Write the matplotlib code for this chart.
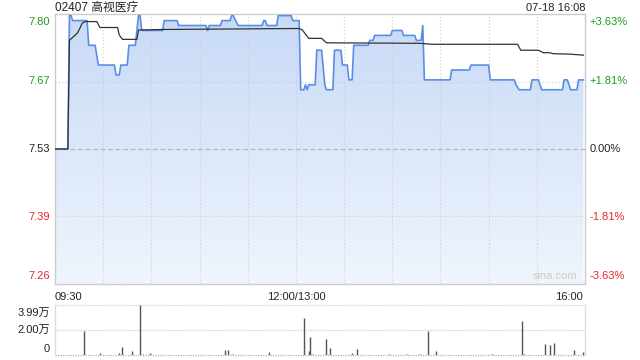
import numpy as np
import matplotlib
matplotlib.use('Agg')
import matplotlib.pyplot as plt
from matplotlib.colors import LinearSegmentedColormap
import matplotlib.transforms as mtrans

plt.rcParams['font.family'] = ['Liberation Sans', 'Noto Sans CJK SC', 'DejaVu Sans']

title = "02407 高视医疗"
stamp = "07-18 16:08"
prev_close = 7.53
pct_levels = [3.63, 1.81, 0.00, -1.81, -3.63]
x_tick_labels = ["09:30", "12:00/13:00", "16:00"]
x_tick_pos = [0, 150, 330]
vol_max = 39900

# minutes since 09:30 (lunch break removed), price
price_min = [0, 8, 9, 10, 11, 20, 21, 25, 27, 37, 38, 40, 41, 45, 46, 50, 52, 53, 54,
             67, 68, 76, 77, 94, 95, 96, 103, 104, 109, 110, 111, 114, 129, 130, 131,
             132, 138, 139, 147, 148, 152, 153, 155, 156, 157, 158, 162, 163, 166,
             168, 169, 173, 174, 178, 179, 182, 183, 185, 186, 195, 196, 198, 199,
             209, 210, 216, 217, 224, 225, 228, 229, 230, 246, 247, 258, 259, 270,
             271, 286, 287, 289, 296, 297, 301, 303, 316, 317, 319, 321, 325, 326, 329]
price_val = [7.53, 7.53, 7.80, 7.80, 7.79, 7.79, 7.74, 7.74, 7.70, 7.70, 7.68, 7.68, 7.70,
             7.70, 7.74, 7.74, 7.80, 7.80, 7.77, 7.77, 7.79, 7.79, 7.78, 7.78, 7.77, 7.78,
             7.78, 7.79, 7.79, 7.80, 7.80, 7.78, 7.78, 7.79, 7.79, 7.78, 7.78, 7.80, 7.80,
             7.79, 7.79, 7.65, 7.65, 7.66, 7.65, 7.66, 7.66, 7.73, 7.73, 7.66, 7.65, 7.65,
             7.73, 7.73, 7.70, 7.70, 7.67, 7.67, 7.74, 7.74, 7.75, 7.75, 7.76, 7.76, 7.77,
             7.77, 7.76, 7.76, 7.75, 7.75, 7.78, 7.67, 7.67, 7.69, 7.69, 7.70, 7.70, 7.67,
             7.67, 7.66, 7.65, 7.65, 7.67, 7.67, 7.65, 7.65, 7.67, 7.67, 7.65, 7.65, 7.67,
             7.67]

avg_min = [0, 8, 9, 14, 16, 17, 19, 26, 28, 39, 40, 42, 51, 52, 67, 152, 154, 158, 166,
           169, 227, 235, 288, 290, 301, 304, 308, 310, 321, 329]
avg_val = [7.53, 7.53, 7.75, 7.765, 7.778, 7.785, 7.788, 7.788, 7.776, 7.776, 7.761, 7.752,
           7.752, 7.771, 7.772, 7.774, 7.771, 7.754, 7.754, 7.745, 7.744, 7.742, 7.742,
           7.730, 7.730, 7.725, 7.725, 7.723, 7.722, 7.720]

vol_min = [18, 28, 40, 42, 48, 53, 55, 59, 106, 108, 110, 133, 155, 158, 159, 160, 169,
           171, 185, 188, 208, 219, 227, 232, 237, 272, 291, 292, 305, 308, 311, 323, 329]
vol_val = [19500, 1600, 1500, 6500, 3300, 39900, 700, 1600, 4000, 4000, 800, 2400, 29300,
           3300, 14650, 800, 13000, 5700, 1600, 4900, 700, 700, 1000, 19000, 3300, 600,
           26900, 800, 8400, 7600, 9800, 4000, 2700]

GREEN = '#1a9e1a'
RED = '#e8262b'
GRID = '#cfcfcf'
FRAME = '#cccccc'
TXT = '#222222'

fig = plt.figure(figsize=(6.4, 3.6), dpi=100)
ax = fig.add_axes([55/640, 76/360, 530/640, 270/360])
axv = fig.add_axes([55/640, 5/360, 530/640, 50/360])

ymax = prev_close * (1 + pct_levels[0] / 100)
ymin = prev_close * (1 + pct_levels[-1] / 100)
ax.set_xlim(0, 330)
ax.set_ylim(ymin, ymax)

# gradient fill under price
poly = ax.fill_between(price_min, price_val, ymin, color='none', lw=0)
grad = np.linspace(1, 0, 256).reshape(-1, 1)
cmap = LinearSegmentedColormap.from_list('g', ['#f0f5fd', '#c8daf7'])
im = ax.imshow(grad, extent=[0, 330, ymin, ymax], aspect='auto', cmap=cmap,
               origin='upper', zorder=1)
im.set_clip_path(poly.get_paths()[0], transform=ax.transData)

# grid
for m in range(30, 330, 30):
    ax.axvline(m, color=GRID, lw=0.8, ls=(0, (1, 2)), zorder=2)
for p in pct_levels[1:-1]:
    y = prev_close * (1 + p / 100)
    if p == 0:
        ax.axhline(y, color='#b8b8b8', lw=0.9, ls=(0, (4, 2)), zorder=2)
    else:
        ax.axhline(y, color=GRID, lw=0.8, ls=(0, (1, 2)), zorder=2)

ax.plot(price_min, price_val, color='#5a8ee6', lw=1.2, zorder=4)
ax.plot(avg_min, avg_val, color='#333333', lw=0.9, zorder=5)

for s in ax.spines.values():
    s.set_color(FRAME)
    s.set_linewidth(1)
ax.set_xticks([])
ax.set_yticks([])

# y labels
n = len(pct_levels)
for i, p in enumerate(pct_levels):
    frac = 1 - i / (n - 1)
    col = GREEN if p > 0 else (RED if p < 0 else TXT)
    va = 'top' if i == 0 else ('bottom' if i == n - 1 else 'center')
    off = -0.012 if i == 0 else (0.012 if i == n - 1 else 0)
    val = prev_close * (1 + p / 100)
    ax.text(-0.01, frac + off, f"{val:.2f}", transform=ax.transAxes, ha='right', va=va,
            color=col, fontsize=8)
    pl = f"+{p:.2f}%" if p > 0 else f"{p:.2f}%"
    ax.text(1.008, frac + off, pl, transform=ax.transAxes, ha='left', va=va,
            color=col, fontsize=8)

# x labels
has = ['left', 'center', 'right']
for pos, lab, ha in zip(x_tick_pos, x_tick_labels, has):
    xx = pos if ha != 'right' else pos - 1.2
    ax.text(xx, -0.03, lab, transform=mtrans.blended_transform_factory(ax.transData, ax.transAxes),
            ha=ha, va='top', color=TXT, fontsize=8)

top_off = mtrans.offset_copy(ax.transAxes, fig=fig, x=0, y=6, units='dots')
ax.text(0.0, 1.0, title, transform=top_off, ha='left', va='center', color=TXT,
        fontsize=8.5)
ax.text(1.0, 1.0, stamp, transform=top_off, ha='right', va='center', color=TXT,
        fontsize=8)
ax.text(0.985, 0.012, "sina.com", transform=ax.transAxes, ha='right', va='bottom',
        color='#cccccc', fontsize=8, zorder=3)

# volume pane
axv.set_xlim(0, 330)
axv.set_ylim(0, vol_max)
axv.vlines(vol_min, 0, vol_val, color='#555555', lw=1.0, zorder=4)
axv.axhline(vol_max / 2, color=GRID, lw=0.9, ls=(0, (1, 1)), zorder=2)
axv.axhline(vol_max, color=GRID, lw=0.9, ls=(0, (1, 1)), zorder=2, clip_on=False)
axv.axhline(0, color='#b0b0b0', lw=0.9, ls=(0, (1, 1)), zorder=2, clip_on=False)
axv.set_xticks([])
axv.set_yticks([])
for k in ['top', 'bottom']:
    axv.spines[k].set_visible(False)
for k in ['left', 'right']:
    axv.spines[k].set_color('#dddddd')
    axv.spines[k].set_linewidth(1)
vol_labels = [(1.0, f"{vol_max/1e4:.2f}万", 'top', -0.05),
              (0.5, f"{vol_max/2/1e4:.2f}万", 'center', 0),
              (0.0, "0", 'bottom', 0.03)]
for frac, lab, va, off in vol_labels:
    axv.text(-0.01, frac + off, lab, transform=axv.transAxes, ha='right', va=va,
             color=TXT, fontsize=8)

fig.savefig('out.png', dpi=100)
